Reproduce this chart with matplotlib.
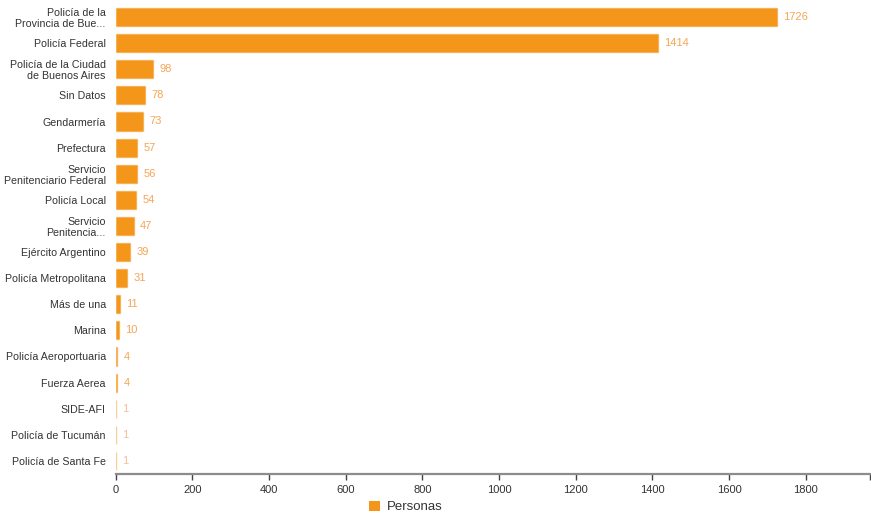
import numpy as np
import matplotlib
matplotlib.use('Agg')
import matplotlib.pyplot as plt
from matplotlib.patches import Patch

plt.rcParams['font.family'] = ['Liberation Sans', 'DejaVu Sans']

# Data
categories = [
    "Policía de la\nProvincia de Bue...",
    "Policía Federal",
    "Policía de la Ciudad\nde Buenos Aires",
    "Sin Datos",
    "Gendarmería",
    "Prefectura",
    "Servicio\nPenitenciario Federal",
    "Policía Local",
    "Servicio\nPenitencia...",
    "Ejército Argentino",
    "Policía Metropolitana",
    "Más de una",
    "Marina",
    "Policía Aeroportuaria",
    "Fuerza Aerea",
    "SIDE-AFI",
    "Policía de Tucumán",
    "Policía de Santa Fe",
]
personas = [1726, 1414, 98, 78, 73, 57, 56, 54, 47, 39, 31, 11, 10, 4, 4, 1, 1, 1]
xticks = [0, 200, 400, 600, 800, 1000, 1200, 1400, 1600, 1800]

bar_color = '#F3961A'
label_color = '#F5A654'
text_color = '#333333'

fig = plt.figure(figsize=(8.71, 5.2), dpi=100)
ax = fig.add_axes([115.5 / 871, 1 - 474 / 520, (870 - 115.5) / 871, 470 / 520])

y = np.arange(len(categories))
xmax = max(personas) * 1.14
bars = ax.barh(y, personas, height=0.69, color=bar_color,
               edgecolor=(0.953, 0.588, 0.102, 0.45), linewidth=1.0)

for yi, v in zip(y, personas):
    c = label_color if v > 1 else '#F7BE9A'
    ax.annotate(str(v), xy=(v, yi), xytext=(4.5, 0), textcoords='offset points',
                ha='left', va='center', fontsize=8, color=c)

ax.set_ylim(len(categories) - 0.5, -0.5)
ax.set_xlim(0, xmax)
ax.set_yticks(y)
ax.set_yticklabels(categories, fontsize=7.7, color=text_color, linespacing=1.15)
ax.tick_params(axis='y', length=0, pad=7)
ax.set_xticks(xticks)
ax.set_xticklabels([str(t) for t in xticks], fontsize=8, color=text_color)
ax.set_xticks([xmax], minor=True)
ax.tick_params(axis='x', which='both', direction='out', length=4, width=1,
               color='#444444', pad=4)

for s in ['top', 'right', 'left']:
    ax.spines[s].set_visible(False)
ax.spines['bottom'].set_color('#8c8c8c')
ax.spines['bottom'].set_linewidth(1.6)

handles = [Patch(facecolor=bar_color, edgecolor='none', label='Personas')]
fig.legend(handles=handles, loc='lower center', bbox_to_anchor=(0.466, -0.01),
           frameon=False, fontsize=9.5, handlelength=0.8, handleheight=0.8,
           handletextpad=0.5, labelcolor=text_color)

fig.savefig('out.png', dpi=100)
